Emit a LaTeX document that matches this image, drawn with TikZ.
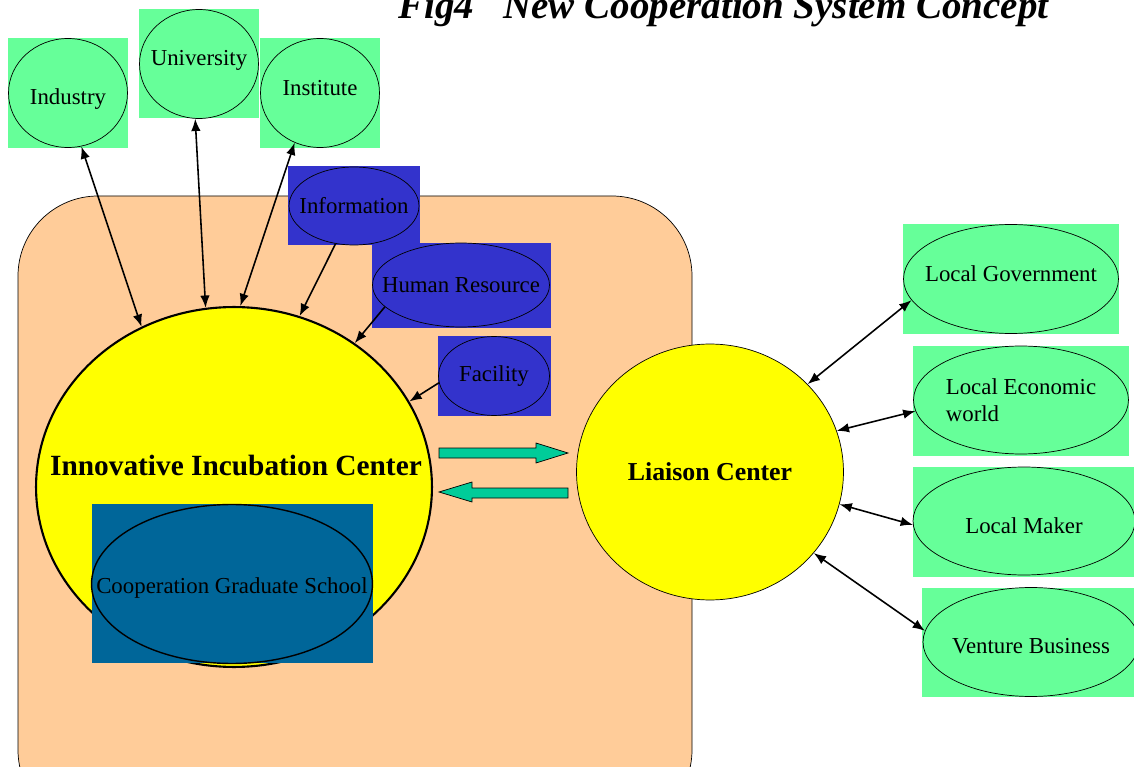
\documentclass[tikz,border=0pt]{standalone}
\usepackage{fontspec}
\setmainfont{Liberation Serif}
\usetikzlibrary{shapes.geometric,arrows.meta}

\definecolor{panel}{HTML}{FFCC99}
\definecolor{mint}{HTML}{66FF99}
\definecolor{royal}{HTML}{3333CC}
\definecolor{school}{HTML}{006699}
\definecolor{sun}{HTML}{FFFF00}
\definecolor{flow}{HTML}{00CC99}

\begin{document}
\begin{tikzpicture}[x=0.02cm,y=-0.02cm,
                    tag/.style={inner sep=0pt,font=\fontsize{13}{15.6}\selectfont,align=left},
                    partner/.style={ellipse,draw,fill=mint,inner sep=0pt},
                    resource/.style={ellipse,draw,fill=royal,inner sep=0pt},
                    hub/.style={ellipse,draw,fill=sun,inner sep=0pt},
                    link/.style={{Latex[length=7pt,width=5.4pt]}-{Latex[length=7pt,width=5.4pt]},line width=0.9pt},
                    feed/.style={-{Latex[length=7pt,width=5.4pt]},line width=0.9pt},
                    bigarrow/.style={draw,fill=flow,thin}]
  \path[use as bounding box,clip] (0,0) rectangle (1134,767);
  \draw[fill=panel,rounded corners=1.6cm] (18,196) rectangle (692,830);

  % backing squares
  \fill[mint] (8,38) rectangle (128,148);
  \fill[mint] (139,9) rectangle (259,118);
  \fill[mint] (260,38) rectangle (380,148);
  \fill[royal] (288,166) rectangle (420,245);
  \fill[royal] (372,243) rectangle (551,328);
  \fill[royal] (438,336) rectangle (551,416);
  \fill[mint] (903,224) rectangle (1119,334);
  \fill[mint] (913,346) rectangle (1129,456);
  \fill[mint] (913,467) rectangle (1134,577);
  \fill[mint] (922,588) rectangle (1134,697);

  \node[anchor=base west,inner sep=0pt,font=\fontsize{22.2}{25}\selectfont\bfseries\itshape] (title) at (398,19)
    {Fig4\ \ \ New Cooperation System Concept};

  \node[partner,minimum width=2.38cm,minimum height=2.18cm,label={[tag,yshift=-3.4pt]center:Industry}] (ind) at (68,93) {};
  \node[partner,minimum width=2.38cm,minimum height=2.18cm,label={[tag,yshift=2pt]center:University}] (uni) at (199,64) {};
  \node[partner,minimum width=2.38cm,minimum height=2.18cm,label={[tag,yshift=2.8pt]center:Institute}] (inst) at (320,93) {};

  \node[resource,minimum width=2.6cm,minimum height=1.56cm,label={[tag]center:Information}] (info) at (354,206) {};
  \node[resource,minimum width=3.54cm,minimum height=1.68cm,label={[tag]center:Human Resource}] (hr) at (461,285) {};
  \node[resource,minimum width=2.22cm,minimum height=1.58cm,label={[tag]center:Facility}] (fac) at (494,376) {};

  \node[hub,very thick,minimum width=7.92cm,minimum height=7.2cm] (iic) at (234,487) {};
  \node[font=\fontsize{16.7}{20}\selectfont\bfseries] (iiclabel) at (236,465) {Innovative Incubation Center};

  \fill[school] (92,504) rectangle (373,663);
  \node[ellipse,draw,thick,inner sep=0pt,minimum width=5.62cm,minimum height=3.18cm,
        label={[tag,yshift=-2pt]center:Cooperation Graduate School}] (cgs) at (232,584) {};

  \node[hub,minimum width=5.34cm,minimum height=5.12cm,
        label={[font=\fontsize{14.7}{17}\selectfont\bfseries]center:Liaison Center}] (lia) at (710,472) {};

  \node[partner,minimum width=4.3cm,minimum height=2.18cm,label={[tag,yshift=3pt]center:Local Government}] (gov) at (1011,279) {};
  \node[partner,minimum width=4.3cm,minimum height=2.16cm,label={[tag]center:Local Economic\\world}] (econ) at (1021,400) {};
  \node[partner,minimum width=4.44cm,minimum height=2.16cm,label={[tag,yshift=-2.6pt]center:Local Maker}] (maker) at (1024,521) {};
  \node[partner,minimum width=4.32cm,minimum height=2.18cm,label={[tag,yshift=-2.6pt]center:Venture Business}] (vent) at (1031,642) {};

  % connectors
  \draw[link] (ind.-76) -- (iic.120);
  \draw[link] (uni.-94) -- (iic.99);
  \draw[link] (inst.-117) -- (iic.88);
  \draw[feed] (info.-116) -- (iic.69);
  \draw[feed] (hr.-164) -- (iic.50);
  \draw[feed] (fac.-173) -- (iic.26);

  \draw[link] (lia.42) -- (gov.-168);
  \draw[link] (lia.18) -- (econ.-174);
  \draw[link] (lia.-14) -- (maker.-178);
  \draw[link] (lia.-38) -- (vent.174);

  \draw[bigarrow] (439,448) -- (536,448) -- (536,443) -- (568,453) -- (536,463) -- (536,458) -- (439,458) -- cycle;
  \draw[bigarrow] (568,488) -- (472,488) -- (472,482) -- (439,492) -- (472,502) -- (472,498) -- (568,498) -- cycle;
\end{tikzpicture}
\end{document}
